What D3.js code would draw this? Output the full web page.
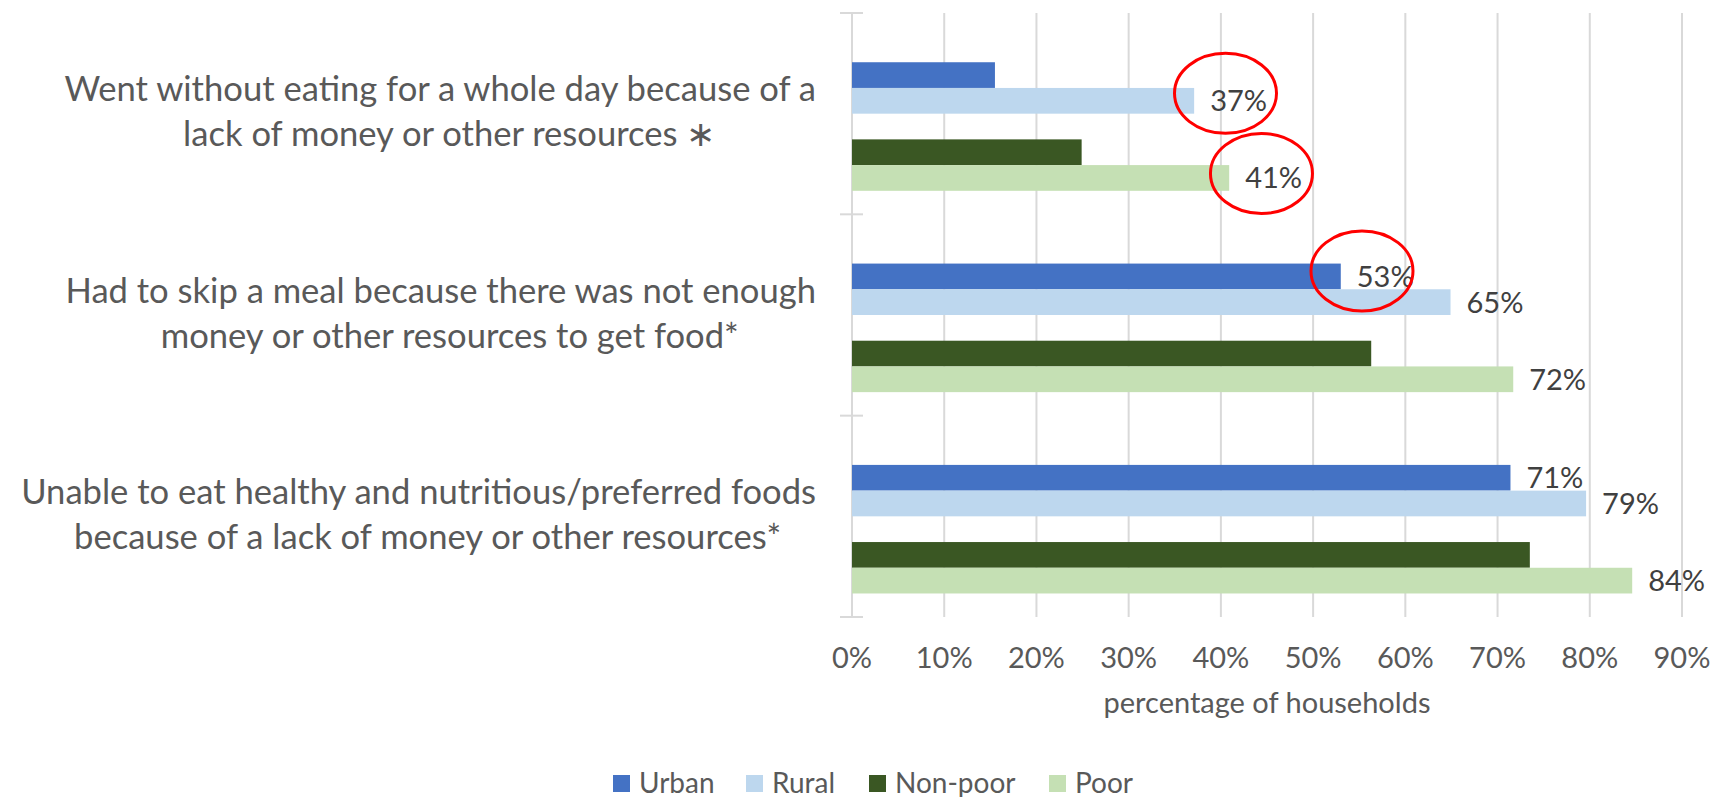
<!DOCTYPE html>
<html>
<head>
<meta charset="utf-8">
<script src="https://cdn.jsdelivr.net/npm/d3@7"></script>
<style>
  html, body { margin: 0; padding: 0; background: #ffffff; }
  svg { display: block; }
</style>
</head>
<body>
<svg id="chart" width="1717" height="797"></svg>
<script>
// ---------- data ----------
const categories = [
  ["Went without eating for a whole day because of a", "lack of money or other resources \u2217"],
  ["Had to skip a meal because there was not enough", "money or other resources to get food*"],
  ["Unable to eat healthy and nutritious/preferred foods", "because of a lack of money or other resources*"]
];
const seriesNames = ["Urban", "Rural", "Non-poor", "Poor"];
const urban   = [15.5, 53.0, 71.4];
const rural   = [37.1, 64.9, 79.6];
const nonPoor = [24.9, 56.3, 73.5];
const poor    = [40.9, 71.7, 84.6];
const urbanLabels   = [null, "53%", "71%"];
const ruralLabels   = ["37%", "65%", "79%"];
const nonPoorLabels = [null, null, null];
const poorLabels    = ["41%", "72%", "84%"];
const xTicks = [0, 10, 20, 30, 40, 50, 60, 70, 80, 90];
const xTickLabels = ["0%", "10%", "20%", "30%", "40%", "50%", "60%", "70%", "80%", "90%"];
const xAxisTitle = "percentage of households";
// highlighted labels (red ellipses): category index, series, centre value
const highlightCat    = [0, 0, 1];
const highlightSeries = ["Rural", "Poor", "Urban"];
const highlightCentre = [40.5, 44.4, 55.3];

const colors = {"Urban": "#4472C4", "Rural": "#BDD7EE", "Non-poor": "#3A5723", "Poor": "#C5E0B4"};
const valuesBySeries = {"Urban": urban, "Rural": rural, "Non-poor": nonPoor, "Poor": poor};
const labelsBySeries = {"Urban": urbanLabels, "Rural": ruralLabels, "Non-poor": nonPoorLabels, "Poor": poorLabels};
// slot layout inside each category band (two empty spacer slots)
const slots = ["_s1", "Urban", "Rural", "_s2", "Non-poor", "Poor"];

// ---------- layout ----------
const svg = d3.select("#chart");
const FONT = "Lato, 'Open Sans', sans-serif";
const plotL = 852, plotR = 1682, plotT = 13, plotB = 617;

const x = d3.scaleLinear().domain([0, 90]).range([plotL, plotR]);
const y = d3.scaleBand().domain(d3.range(categories.length)).range([plotT, plotB]).padding(0);
const ys = d3.scaleBand().domain(slots).range([0, y.bandwidth()]).paddingInner(0).paddingOuter(0.915);

// gridlines
svg.append("g").selectAll("line").data(xTicks.filter(d => d > 0)).join("line")
  .attr("x1", d => x(d)).attr("x2", d => x(d))
  .attr("y1", plotT).attr("y2", plotB)
  .attr("stroke", "#d9d9d9").attr("stroke-width", 2);

// y axis line with crossing ticks
const axisG = svg.append("g");
axisG.append("line").attr("x1", x(0)).attr("x2", x(0)).attr("y1", plotT).attr("y2", plotB)
  .attr("stroke", "#d9d9d9").attr("stroke-width", 2);
const bounds = d3.range(categories.length + 1).map(i => i < categories.length ? y(i) : y(i - 1) + y.bandwidth());
axisG.selectAll("line.t").data(bounds).join("line").attr("class", "t")
  .attr("x1", x(0) - 12).attr("x2", x(0) + 11)
  .attr("y1", d => d).attr("y2", d => d)
  .attr("stroke", "#d9d9d9").attr("stroke-width", 2);

// bars
const barData = [];
seriesNames.forEach(s => {
  valuesBySeries[s].forEach((v, i) => barData.push({s, i, v, label: labelsBySeries[s][i]}));
});
svg.append("g").selectAll("rect").data(barData).join("rect")
  .attr("x", x(0))
  .attr("y", d => y(d.i) + ys(d.s))
  .attr("width", d => x(d.v) - x(0))
  .attr("height", ys.bandwidth())
  .attr("fill", d => colors[d.s]);

// data labels
svg.append("g").selectAll("text").data(barData.filter(d => d.label)).join("text")
  .attr("x", d => x(d.v) + 16)
  .attr("y", d => y(d.i) + ys(d.s) + ys.bandwidth() / 2)
  .attr("dy", "0.36em")
  .attr("font-family", FONT).attr("font-size", 29)
  .attr("fill", "#404040")
  .text(d => d.label);

// highlight ellipses
const hl = highlightCat.map((c, k) => ({c, s: highlightSeries[k], v: highlightCentre[k]}));
const dyOff = [-7.5, -4.5, -5.5];
svg.append("g").selectAll("ellipse").data(hl).join("ellipse")
  .attr("cx", d => x(d.v))
  .attr("cy", (d, k) => y(d.c) + ys(d.s) + ys.bandwidth() / 2 + dyOff[k])
  .attr("rx", 51).attr("ry", 40)
  .attr("fill", "none").attr("stroke", "#FF0000").attr("stroke-width", 3);

// category labels (two lines, centred block, right aligned to the axis)
const catG = svg.append("g").attr("font-family", FONT).attr("font-size", 34.6).attr("fill", "#595959");
categories.forEach((lines, i) => {
  const cy = y(i) + y.bandwidth() / 2;
  const t1 = catG.append("text").attr("y", cy - 12.5).text(lines[0]);
  const w1 = t1.node().getComputedTextLength();
  const blockRight = 816;
  const c = blockRight - w1 / 2;
  t1.attr("x", c).attr("text-anchor", "middle");
  catG.append("text").attr("x", c + 9).attr("y", cy + 32.5).attr("text-anchor", "middle").text(lines[1]);
});

// x tick labels
svg.append("g").selectAll("text").data(xTicks).join("text")
  .attr("x", d => x(d)).attr("y", 668)
  .attr("text-anchor", "middle")
  .attr("font-family", FONT).attr("font-size", 29).attr("fill", "#595959")
  .text((d, i) => xTickLabels[i]);

// axis title
svg.append("text").attr("x", (plotL + plotR) / 2).attr("y", 713)
  .attr("text-anchor", "middle")
  .attr("font-family", FONT).attr("font-size", 29).attr("fill", "#595959")
  .text(xAxisTitle);

// legend
const legendX = [613, 746, 869, 1049];
const leg = svg.append("g").selectAll("g").data(seriesNames).join("g")
  .attr("transform", (d, i) => `translate(${legendX[i]},775)`);
leg.append("rect").attr("width", 17).attr("height", 17).attr("fill", d => colors[d]);
leg.append("text").attr("x", 26).attr("y", 17.5)
  .attr("font-family", FONT).attr("font-size", 28).attr("fill", "#595959")
  .text(d => d);
</script>
</body>
</html>
